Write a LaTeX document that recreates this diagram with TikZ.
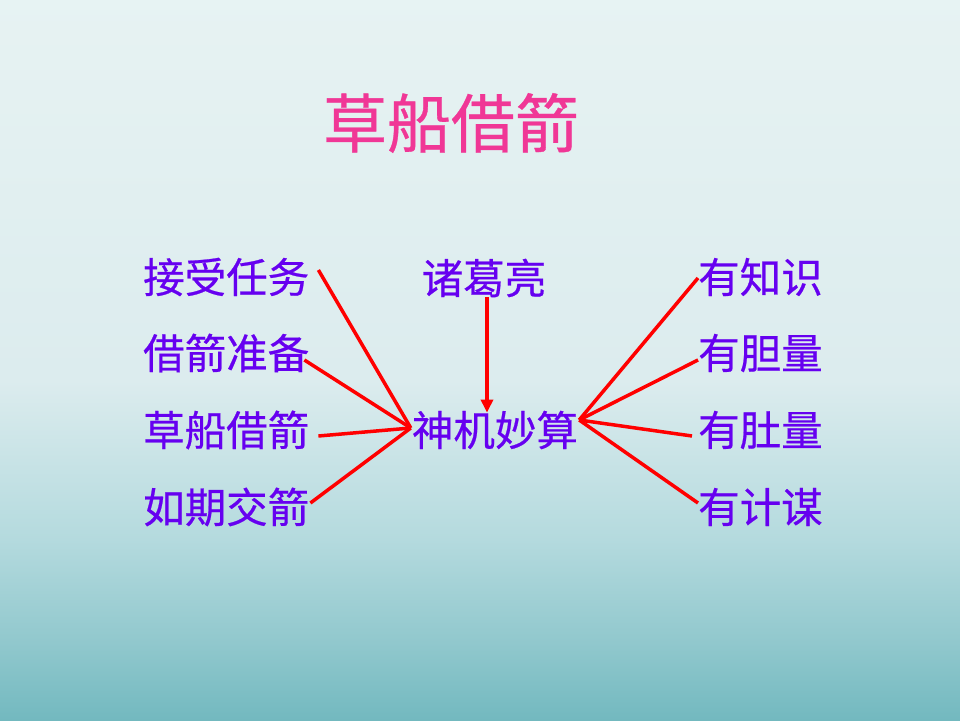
\documentclass[tikz,border=0pt]{standalone}
\usepackage{fontspec}
\newfontfamily\cjk[FakeBold=0.5]{Noto Sans CJK SC}
\usetikzlibrary{arrows.meta}
\definecolor{titlepink}{RGB}{240,55,150}
\definecolor{txtpurple}{RGB}{102,0,240}
\definecolor{linered}{RGB}{255,0,0}
\pgfdeclareverticalshading{bgshade}{100bp}{rgb(0bp)=(0.45,0.725,0.75); rgb(25bp)=(0.45,0.725,0.75); rgb(30.5bp)=(0.57,0.785,0.805); rgb(37.5bp)=(0.705,0.855,0.87); rgb(48.5bp)=(0.862,0.925,0.933); rgb(75bp)=(0.905,0.952,0.952); rgb(100bp)=(0.905,0.952,0.952)}
\tikzset{
  lbl/.style={inner sep=0pt, text=txtpurple, font=\cjk\fontsize{41.5}{50}\selectfont},
  ttl/.style={inner sep=0pt, text=titlepink, font=\cjk\fontsize{64}{76}\selectfont},
  conn/.style={draw=linered, line width=3.5pt},
  arr/.style={draw=linered, line width=3.5pt, -{Triangle[length=13pt,width=12pt]}}
}
\begin{document}
\begin{tikzpicture}[x=1pt,y=-1pt]
\path[shading=bgshade] (0,0) rectangle (960,720);
\useasboundingbox (0,0) rectangle (960,720);
\node[ttl] (title) at (451,123) {草船借箭};
\node[lbl, anchor=west] (l1) at (143,277) {接受任务};
\node[lbl, anchor=west] (l2) at (143,353) {借箭准备};
\node[lbl, anchor=west] (l3) at (143,430) {草船借箭};
\node[lbl, anchor=west] (l4) at (143,507) {如期交箭};
\node[lbl] (zgl) at (484,278) {诸葛亮};
\node[lbl] (mid) at (495,430) {神机妙算};
\node[lbl, anchor=west] (r1) at (698,277) {有知识};
\node[lbl, anchor=west] (r2) at (698,353) {有胆量};
\node[lbl, anchor=west] (r3) at (698,430) {有肚量};
\node[lbl, anchor=west] (r4) at (698,507) {有计谋};
\coordinate (hubL) at ([xshift=-1pt,yshift=2pt]mid.west);
\coordinate (hubR) at ([xshift=1pt,yshift=10pt]mid.east);
\draw[conn] ([xshift=9pt,yshift=7pt]l1.east) -- (hubL);
\draw[conn] ([xshift=-5pt,yshift=-7pt]l2.east) -- (hubL);
\draw[conn] ([xshift=9pt,yshift=-6pt]l3.east) -- (hubL);
\draw[conn] ([xshift=1pt,yshift=4pt]l4.east) -- (hubL);
\draw[conn] ([yshift=-1pt]r1.west) -- (hubR);
\draw[conn] ([yshift=-7pt]r2.west) -- (hubR);
\draw[conn] ([xshift=-6pt,yshift=-6pt]r3.west) -- (hubR);
\draw[conn] ([yshift=4pt]r4.west) -- (hubR);
\draw[arr] ([xshift=3pt]zgl.south) -- ([xshift=-8pt,yshift=-2pt]mid.north);
\end{tikzpicture}
\end{document}
